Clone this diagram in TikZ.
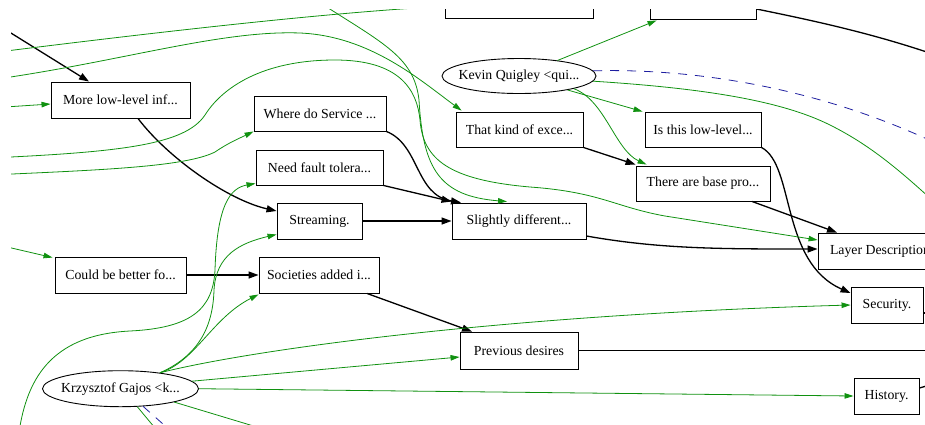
\documentclass[tikz,border=0pt]{standalone}
\usepackage{fontspec}
\setmainfont{Liberation Serif}
\usetikzlibrary{arrows.meta,shapes.geometric}
\definecolor{linkgreen}{RGB}{16,145,16}
\definecolor{pairblue}{RGB}{30,30,160}
\begin{document}
\begin{tikzpicture}[x=1pt,y=-1pt,
  every node/.style={font=\fontsize{13.8}{16}\selectfont},
  box/.style={draw=black, line width=0.9pt, inner sep=0pt, minimum height=36pt},
  person/.style={draw=black, ellipse, line width=0.9pt, inner sep=0pt},
  depedge/.style={draw=black, line width=1.3pt, -{Triangle[length=10pt,width=7pt]}},
  openedge/.style={draw=black, line width=1.3pt},
  greenedge/.style={draw=linkgreen, line width=0.8pt, -{Triangle[length=9pt,width=5.5pt]}},
  greenfree/.style={draw=linkgreen, line width=0.8pt},
  blueedge/.style={draw=pairblue, line width=0.8pt, dash pattern=on 9pt off 8pt},
]
\useasboundingbox (0,0) rectangle (925,424);
\begin{scope}
\clip (11,9) rectangle (925,424);

% ---- nodes ----
\node[box, minimum width=148pt] (top1) at (519,0) {};
\node[box, minimum width=106pt, minimum height=37pt] (top2) at (703,0.5) {};
\node[box, minimum width=139pt] (more) at (120.5,100) {More low-level inf...};
\node[box, minimum width=132pt, minimum height=35pt] (where) at (320,113.5) {Where do Service ...};
\node[person, minimum width=154pt, minimum height=35pt] (kevin) at (519,76) {\makebox[0pt]{Kevin Quigley <qui...}};
\node[box, minimum width=127pt, minimum height=35pt] (thatkind) at (519.5,129.5) {That kind of exce...};
\node[box, minimum width=116pt, minimum height=35pt] (isthis) at (703,129.5) {Is this low-level...};
\node[box, minimum width=127pt, minimum height=35pt] (needfault) at (319.5,167.5) {Need fault tolera...};
\node[box, minimum width=134pt, minimum height=35pt] (basepro) at (703,183.5) {There are base pro...};
\node[box, minimum width=85pt] (streaming) at (319.5,221) {Streaming.};
\node[box, minimum width=134pt] (slightly) at (519,221) {Slightly different...};
\node[box, minimum width=124pt] (layer) at (880,251) {Layer Description};
\node[box, minimum width=131pt] (could) at (120.5,275) {Could be better fo...};
\node[box, minimum width=120pt] (societies) at (319,275) {Societies added i...};
\node[box, minimum width=72pt] (security) at (887,305) {Security.};
\node[box, minimum width=118pt, minimum height=37pt] (previous) at (519,350.5) {Previous desires};
\node[box, minimum width=65pt] (history) at (886.5,396) {History.};
\node[person, minimum width=156pt, minimum height=36pt] (kz) at (120.5,388.7) {\makebox[0pt]{Krzysztof Gajos <k...}};

% ---- free ends of edges leaving the view ----
\coordinate (inA) at (-10,20);
\coordinate (outPrev) at (945,350.5);
\coordinate (outSec) at (945,313);
\coordinate (outHist) at (940,382);
\coordinate (outTop) at (950,60);
\coordinate (g1s) at (-10,53);
\coordinate (g1e) at (450,6);
\coordinate (g2s) at (-10,80);
\coordinate (g3s) at (-10,108);
\coordinate (g4s) at (-10,158);
\coordinate (gbs) at (308,-5);
\coordinate (g5s) at (-10,175);
\coordinate (gcs) at (-10,243);
\coordinate (kfar) at (945,212);
\coordinate (bfar) at (950,150);
\coordinate (bl) at (18,440);
\coordinate (kzout) at (290,437);
\coordinate (kzdown) at (165,440);
\coordinate (kzdash) at (181,440);

% ---- black dependency edges ----
\draw[depedge] (inA) -- ([xshift=-31.5pt]more.north);
\draw[depedge] ([xshift=17.5pt]more.south) .. controls (168,158) and (228,200) .. ([yshift=10pt]streaming.west);
\draw[depedge] (where.south east) .. controls (420,145) and (415,195) .. ([xshift=-58pt]slightly.north);
\draw[depedge] (needfault.south east) -- ([yshift=1pt]slightly.north west);
\draw[depedge] (streaming) -- (slightly);
\draw[depedge] (thatkind.south east) -- ([yshift=1pt]basepro.north west);
\draw[depedge] ([yshift=-15pt]slightly.east) .. controls (660,249) and (720,249) .. ([yshift=2pt]layer.west);
\draw[depedge] (isthis.south east) .. controls (795,165) and (780,262) .. ([yshift=12pt]security.west);
\draw[depedge] ([xshift=49pt]basepro.south) -- ([xshift=-43pt]layer.north);
\draw[depedge] ([xshift=48pt]societies.south) -- ([xshift=-47pt]previous.north);
\draw[depedge] (could) -- (societies);
\draw[openedge] (previous.east) -- (outPrev);
\draw[openedge] ([yshift=-8pt]security.east) -- (outSec);
\draw[openedge] ([yshift=8pt]history.east) -- (outHist);
\draw[openedge] ([yshift=-8.5pt]top2.east) .. controls (820,22) and (880,35) .. (outTop);

% ---- green edges ----
\draw[greenfree] (g1s) .. controls (150,33) and (330,12) .. (g1e);
\draw[greenedge] (g2s) .. controls (120,62) and (220,30) .. (300,33) .. controls (370,36) and (420,80) .. ([xshift=6pt,yshift=1pt]thatkind.north west);
\draw[greenedge] (g3s) -- ([yshift=-4pt]more.west);
\draw[greenedge] (g4s) .. controls (120,152) and (185,145) .. (205,115) .. controls (222,88) and (262,60) .. (335,60) .. controls (400,60) and (417,90) .. (420,120) .. controls (423,160) and (450,180) .. (530,187) .. controls (600,192) and (615,207) .. (665,216) -- ([yshift=11pt]layer.west);
\draw[greenedge] (gbs) .. controls (380,42) and (414,55) .. (419,100) .. controls (423,170) and (440,196) .. ([xshift=-12pt,yshift=1pt]slightly.north);
\draw[greenedge] (g5s) .. controls (100,170) and (185,167) .. (215,152) .. controls (228,143) and (240,138) .. (where.south west);
\draw[greenedge] (gcs) -- ([xshift=-2pt,yshift=-1pt]could.north west);

% edges of Kevin Quigley
\draw[greenedge] (kevin) -- ([xshift=7pt,yshift=-1pt]top2.south west);
\draw[greenedge] (kevin) -- ([xshift=-2pt]isthis.north west);
\draw[greenedge] (kevin.south east) .. controls (605,100) and (615,150) .. ([xshift=11pt,yshift=1pt]basepro.north west);
\draw[greenfree] (kevin.-4) .. controls (700,88) and (780,100) .. (830,125) .. controls (870,145) and (900,170) .. (kfar);
\draw[blueedge] (kevin.4) .. controls (700,68) and (830,90) .. (bfar);

% edges of Krzysztof Gajos
\draw[greenedge] (kz.22) .. controls (200,355) and (213,325) .. (214,290) .. controls (216,255) and (240,243) .. ([yshift=5pt]streaming.south west);
\draw[greenedge] (bl) .. controls (25,380) and (50,335) .. (130,331) .. controls (190,328) and (213,310) .. (215,270) .. controls (217,205) and (230,188) .. ([yshift=2pt]needfault.south west);
\draw[greenedge] (kz.22) .. controls (195,362) and (212,318) .. ([yshift=-1pt]societies.south west);
\draw[greenedge] (kz.22) .. controls (250,350) and (500,315) .. (security.west);
\draw[greenedge] (kz.6) -- ([yshift=-6.5pt]previous.west);
\draw[greenedge] (kz.east) -- (history.west);
\draw[greenfree] (kz.-14) -- (kzout);
\draw[greenfree] (kz.-47) -- (kzdown);
\draw[blueedge] (kz.-38) -- (kzdash);
\end{scope}
\end{tikzpicture}
\end{document}
